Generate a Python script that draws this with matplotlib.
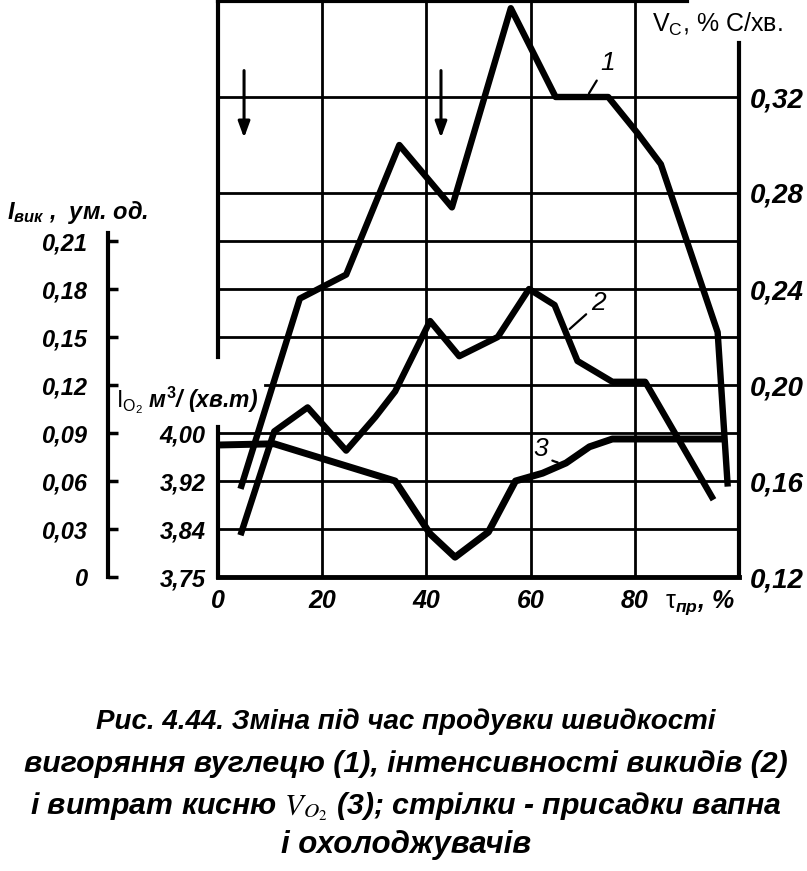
import matplotlib
matplotlib.use("Agg")
import matplotlib.pyplot as plt

FONT = "Liberation Sans"
plt.rcParams['font.family'] = [FONT, 'DejaVu Sans']
plt.rcParams['mathtext.fontset'] = 'custom'
plt.rcParams['mathtext.it'] = 'Liberation Sans:italic:bold'
plt.rcParams['mathtext.rm'] = 'Liberation Sans:bold'
plt.rcParams['mathtext.bf'] = 'Liberation Sans:bold'
plt.rcParams['mathtext.sf'] = 'Liberation Sans'

# ---------------- data ----------------
# curve 1: carbon burn-off rate V_C, % C/min (right axis)
tau_1 = [4.5, 15.7, 24.6, 34.8, 44.9, 56.2, 64.8, 74.9, 80.5, 85.0, 95.9, 97.8]
vc_1 = [0.158, 0.236, 0.246, 0.300, 0.274, 0.357, 0.320, 0.320, 0.305, 0.292, 0.222, 0.159]

# curve 2: emission intensity I_вик, rel. units (far-left axis)
tau_2 = [4.5, 10.8, 17.2, 24.6, 30.2, 34.0, 40.7, 46.3, 53.7, 59.7, 64.6, 69.0, 75.7, 82.0, 94.8]
i_2 = [0.028, 0.091, 0.106, 0.079, 0.100, 0.116, 0.160, 0.138, 0.150, 0.180, 0.170, 0.135, 0.122, 0.122, 0.050]

# curve 3: oxygen flow I_O2, m3/(min.t) (inner-left axis)
tau_3 = [0.0, 10.8, 34.0, 40.7, 45.5, 51.9, 57.1, 62.3, 66.8, 71.3, 75.7, 96.6]
o2_3 = [3.98, 3.982, 3.92, 3.832, 3.793, 3.835, 3.92, 3.933, 3.95, 3.977, 3.99, 3.99]

# additions of lime and coolants (arrows)
arrow_tau = [5.0, 42.8]

x_ticks = [0, 20, 40, 60, 80]
vc_ticks = [0.12, 0.16, 0.20, 0.24, 0.28, 0.32]
i_ticks = [0, 0.03, 0.06, 0.09, 0.12, 0.15, 0.18, 0.21]
o2_ticks = [3.76, 3.84, 3.92, 4.00]
o2_labels = ['3,75', '3,84', '3,92', '4,00']
vc_grid = [0.14, 0.16, 0.18, 0.22, 0.24, 0.26, 0.28, 0.32]
vc_grid_partial = 0.20

caption = [
    "Рис. 4.44. Зміна під час продувки швидкості",
    "вигоряння вуглецю (1), інтенсивності викидів (2)",
    "і витрат кисню $V_{O_2}$ (3); стрілки - присадки вапна",
    "і охолоджувачів",
]


def comma(v, nd=2):
    return "0" if v == 0 else f"{v:.{nd}f}".replace('.', ',')


W, H = 807, 871
fig = plt.figure(figsize=(W / 100, H / 100), dpi=100)
pos = [218 / W, 1 - 577 / H, 521 / W, 576 / H]

BI = dict(fontweight='bold', fontstyle='italic')
LW_SP = 3.0
LW_GRID = 2.0
LW_CURVE = 4.6

# ---- main axes (V_C, grid, curve 1) ----
ax = fig.add_axes(pos)
ax.set_xlim(0, 100)
ax.set_ylim(0.12, 0.36)
for s in ax.spines.values():
    s.set_linewidth(LW_SP)
    s.set_color('black')
ax.spines['left'].set_bounds(0.2117, 0.36)
ax.spines['top'].set_bounds(0, 90)
ax.spines['right'].set_bounds(0.12, 0.3425)
ax.spines['bottom'].set_linewidth(3.5)

ax.yaxis.tick_right()
ax.set_yticks(vc_ticks)
ax.set_yticklabels([comma(v) for v in vc_ticks], fontsize=20, **BI)
ax.tick_params(axis='y', length=0, pad=8)
ax.set_xticks(x_ticks)
ax.set_xticklabels([str(t) for t in x_ticks], fontsize=18, **BI)
ax.tick_params(axis='x', length=0, pad=9)

for v in vc_grid:
    ax.axhline(v, color='black', lw=LW_GRID, zorder=1)
ax.axhline(vc_grid_partial, xmin=0.09, color='black', lw=LW_GRID, zorder=1)
for t in x_ticks[1:]:
    ax.axvline(t, color='black', lw=LW_GRID, zorder=1)

ax.plot(tau_1, vc_1, color='black', lw=LW_CURVE, zorder=3)

for t in arrow_tau:
    ax.annotate('', xy=(t, 0.303), xytext=(t, 0.331),
                arrowprops=dict(arrowstyle='-|>,head_length=0.6,head_width=0.22',
                                lw=2.2, color='black',
                                mutation_scale=16, shrinkA=0, shrinkB=0))

ax.annotate('1', xy=(71.2, 0.3215), xytext=(74.7, 0.334), fontsize=19,
            fontstyle='italic', ha='center', va='center',
            arrowprops=dict(arrowstyle='-', lw=1.6, color='black',
                            shrinkA=2, shrinkB=0))

# ---- O2 axes (inner left scale, curve 3) ----
axO = fig.add_axes(pos)
axO.patch.set_visible(False)
axO.set_xlim(0, 100)
axO.set_ylim(3.76, 4.72)
for k in ['right', 'top', 'bottom']:
    axO.spines[k].set_visible(False)
axO.spines['left'].set_linewidth(LW_SP)
axO.spines['left'].set_bounds(3.76, 4.01)
axO.set_xticks([])
axO.set_yticks(o2_ticks)
axO.set_yticklabels(o2_labels, fontsize=17, **BI)
axO.tick_params(axis='y', length=0, pad=9)
axO.plot(tau_3, o2_3, color='black', lw=5, zorder=3)
axO.annotate('3', xy=(65.2, 3.951), xytext=(62.0, 3.974), fontsize=19,
             fontstyle='italic', ha='center', va='center',
             arrowprops=dict(arrowstyle='-', lw=1.6, color='black',
                             shrinkA=1, shrinkB=0,
                             connectionstyle='arc3,rad=0.25'))

# ---- I_вик overlay (curve 2) ----
axC = fig.add_axes(pos)
axC.set_xlim(0, 100)
axC.set_ylim(0, 0.36)
axC.axis('off')
axC.plot(tau_2, i_2, color='black', lw=LW_CURVE, zorder=3)
axC.annotate('2', xy=(67.5, 0.155), xytext=(73.0, 0.171), fontsize=19,
             fontstyle='italic', ha='center', va='center',
             arrowprops=dict(arrowstyle='-', lw=1.6, color='black',
                             shrinkA=2, shrinkB=0))

# ---- far-left I_вик axis ----
axI = fig.add_axes([108 / W, pos[1], 20 / W, pos[3]])
axI.patch.set_visible(False)
axI.set_ylim(0, 0.36)
for k in ['right', 'top', 'bottom']:
    axI.spines[k].set_visible(False)
axI.spines['left'].set_linewidth(LW_SP)
axI.spines['left'].set_bounds(0, 0.215)
axI.set_xticks([])
axI.set_yticks(i_ticks)
axI.set_yticklabels([comma(v) for v in i_ticks], fontsize=17, **BI)
axI.tick_params(axis='y', direction='in', length=7, width=2.5, pad=15)

# ---- axis titles ----
fig.text(7 / W, 1 - 212 / H, "$I_{вик}$ ,  ум. од.", fontsize=17,
         ha='left', va='center', **BI)
fig.text(116 / W, 1 - 400 / H, r"$\mathsf{I}_{\mathsf{O_2}}$ м$^3$/ (хв.т)",
         fontsize=16.5, ha='left', va='center', **BI)
fig.text(652 / W, 1 - 24 / H, r"V$_{\mathsf{C}}$, % C/хв.", fontsize=18,
         ha='left', va='center')
fig.text(665 / W, 1 - 603 / H, r"$\mathsf{\tau}_{пр}$, %", fontsize=18,
         ha='left', va='center', **BI)

# ---- caption ----
baselines = [729, 772, 814, 853]
sizes = [20.0, 21.8, 21.8, 22.5]
for line, yb, fs in zip(caption, baselines, sizes):
    kw = dict(ha='center', va='baseline', fontsize=fs, **BI)
    if '$' in line:
        kw['math_fontfamily'] = 'stix'
    fig.text(0.503, 1 - yb / H, line, **kw)

fig.savefig("out.png", dpi=100)
